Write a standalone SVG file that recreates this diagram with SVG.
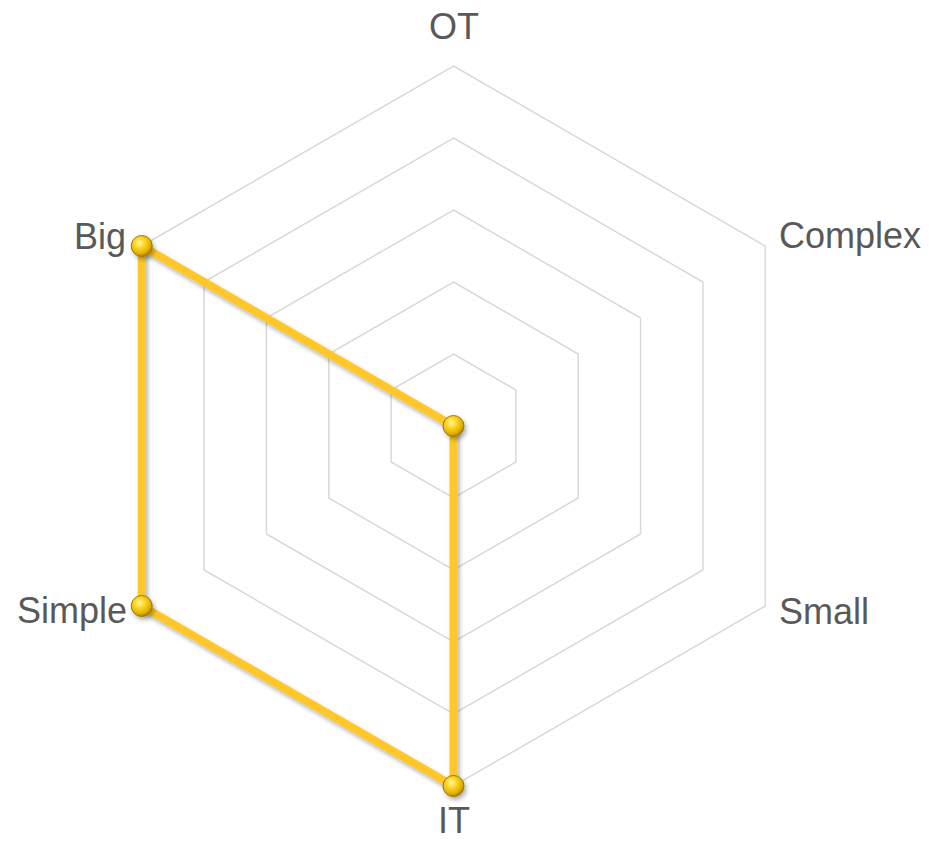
<svg xmlns="http://www.w3.org/2000/svg" width="932" height="841" viewBox="0 0 932 841">
<defs>
<style>
.grid{fill:none;stroke:#d9d9d9;stroke-width:1.5}
.lbl{font-family:"Liberation Sans",Arial,sans-serif;font-size:36px;fill:#595959}
.series{fill:none;stroke:#FFC72C;stroke-width:8;stroke-linejoin:round}
.mk{fill:url(#gold);stroke:#9c7a00;stroke-width:1}
</style>
<radialGradient id="gold" cx="0.4" cy="0.35" r="0.65">
<stop offset="0" stop-color="#FFF6A8"/>
<stop offset="0.35" stop-color="#FFD92A"/>
<stop offset="0.8" stop-color="#E0AE00"/>
<stop offset="1" stop-color="#A88000"/>
</radialGradient>
<filter id="sh" x="-20%" y="-20%" width="140%" height="140%">
<feDropShadow dx="2" dy="3" stdDeviation="2" flood-color="#000" flood-opacity="0.3"/>
</filter>
</defs>
<rect width="932" height="841" fill="#fff"/>
<g id="grid">
<polygon class="grid" points="453.5,354 515.85,390 515.85,462 453.5,498 391.15,462 391.15,390"/>
<polygon class="grid" points="453.5,282 578.21,354 578.21,498 453.5,570 328.79,498 328.79,354"/>
<polygon class="grid" points="453.5,210 640.56,318 640.56,534 453.5,642 266.44,534 266.44,318"/>
<polygon class="grid" points="453.5,138 702.92,282 702.92,570 453.5,714 204.08,570 204.08,282"/>
<polygon class="grid" points="453.5,66 765.27,246 765.27,606 453.5,786 141.73,606 141.73,246"/>
</g>
<g id="labels">
<text id="lbl-ot" class="lbl" x="454" y="39" text-anchor="middle">OT</text>
<text id="lbl-complex" class="lbl" x="779" y="248">Complex</text>
<text id="lbl-small" class="lbl" x="779" y="624">Small</text>
<text id="lbl-it" class="lbl" x="454" y="833" text-anchor="middle">IT</text>
<text id="lbl-simple" class="lbl" x="127" y="623" text-anchor="end">Simple</text>
<text id="lbl-big" class="lbl" x="126" y="249" text-anchor="end">Big</text>
</g>
<g id="connectors" filter="url(#sh)">
<polygon class="series" points="453.5,426 453.5,786 141.73,606 141.73,246"/>
</g>
<g id="markers" filter="url(#sh)">
<g id="pt-center"><circle class="mk" cx="453.5" cy="426" r="10.5"/></g>
<g id="pt-it"><circle class="mk" cx="453.5" cy="786" r="10.5"/></g>
<g id="pt-simple"><circle class="mk" cx="141.73" cy="606" r="10.5"/></g>
<g id="pt-big"><circle class="mk" cx="141.73" cy="246" r="10.5"/></g>
</g>
</svg>
